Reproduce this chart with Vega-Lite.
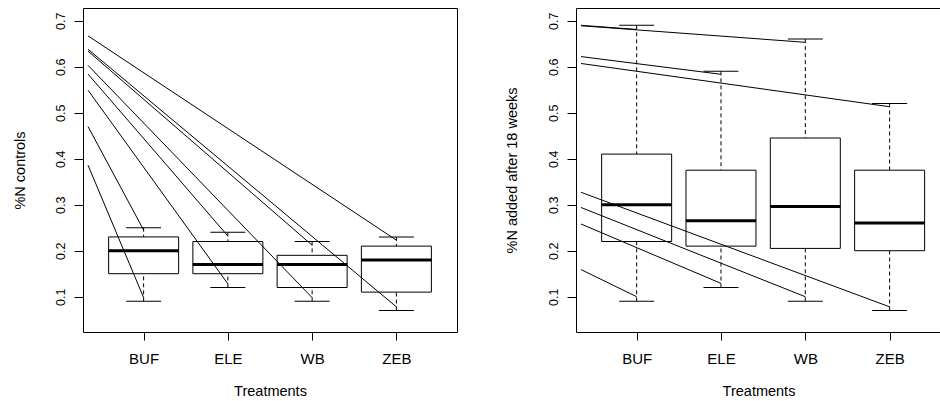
{
  "$schema": "https://vega.github.io/schema/vega-lite/v6.json",
  "background": "white",
  "padding": {"left": 12, "top": 8, "right": 0, "bottom": 0},
  "bounds": "flush",
  "spacing": 119,
  "config": {
    "view": {"stroke": null},
    "font": "Liberation Sans",
    "tick": {"opacity": 1},
    "bar": {"opacity": 1},
    "axis": {"grid": false, "domainColor": "black", "tickColor": "black", "labelColor": "black", "titleColor": "black", "titleFontWeight": "normal", "labelFlush": false, "labelOverlap": false, "domainWidth": 1, "tickWidth": 1}
  },
  "datasets": {
    "boxL": [
      {"trt": "BUF", "idx": 1, "lo": 0.09, "q1": 0.15, "med": 0.20, "q3": 0.23, "hi": 0.25},
      {"trt": "ELE", "idx": 2, "lo": 0.12, "q1": 0.15, "med": 0.17, "q3": 0.22, "hi": 0.24},
      {"trt": "WB", "idx": 3, "lo": 0.09, "q1": 0.12, "med": 0.17, "q3": 0.19, "hi": 0.22},
      {"trt": "ZEB", "idx": 4, "lo": 0.07, "q1": 0.11, "med": 0.18, "q3": 0.21, "hi": 0.23}
    ],
    "boxR": [
      {"trt": "BUF", "idx": 1, "lo": 0.09, "q1": 0.22, "med": 0.30, "q3": 0.41, "hi": 0.69},
      {"trt": "ELE", "idx": 2, "lo": 0.12, "q1": 0.21, "med": 0.265, "q3": 0.375, "hi": 0.59},
      {"trt": "WB", "idx": 3, "lo": 0.09, "q1": 0.205, "med": 0.296, "q3": 0.445, "hi": 0.66},
      {"trt": "ZEB", "idx": 4, "lo": 0.07, "q1": 0.20, "med": 0.26, "q3": 0.375, "hi": 0.52}
    ],
    "linesL": [
      {"x0": 0.34, "y0": 0.667, "x1": 4, "y1": 0.223},
      {"x0": 0.34, "y0": 0.638, "x1": 4, "y1": 0.078},
      {"x0": 0.34, "y0": 0.634, "x1": 3, "y1": 0.212},
      {"x0": 0.34, "y0": 0.603, "x1": 3, "y1": 0.098},
      {"x0": 0.34, "y0": 0.584, "x1": 2, "y1": 0.232},
      {"x0": 0.34, "y0": 0.549, "x1": 2, "y1": 0.128},
      {"x0": 0.34, "y0": 0.470, "x1": 1, "y1": 0.245},
      {"x0": 0.34, "y0": 0.386, "x1": 1, "y1": 0.098}
    ],
    "linesR": [
      {"x0": 0.34, "y0": 0.690, "x1": 1, "y1": 0.681},
      {"x0": 0.34, "y0": 0.689, "x1": 3, "y1": 0.653},
      {"x0": 0.34, "y0": 0.622, "x1": 2, "y1": 0.5835},
      {"x0": 0.34, "y0": 0.607, "x1": 4, "y1": 0.513},
      {"x0": 0.34, "y0": 0.327, "x1": 4, "y1": 0.078},
      {"x0": 0.34, "y0": 0.294, "x1": 3, "y1": 0.100},
      {"x0": 0.34, "y0": 0.258, "x1": 2, "y1": 0.129},
      {"x0": 0.34, "y0": 0.159, "x1": 1, "y1": 0.100}
    ]
  },
  "hconcat": [
    {
      "width": 374,
      "height": 324,
      "resolve": {"axis": {"x": "independent", "y": "independent"}},
      "layer": [
        {
          "data": {"name": "boxL"},
          "mark": {"type": "rule", "color": "black", "strokeWidth": 1, "strokeDash": [4, 3]},
          "encoding": {
            "x": {"field": "idx", "type": "quantitative", "scale": {"domain": [0.34, 4.66], "nice": false, "zero": false},
              "axis": {"values": [1, 2, 3, 4], "labelExpr": "datum.value == 1 ? 'BUF' : datum.value == 2 ? 'ELE' : datum.value == 3 ? 'WB' : 'ZEB'", "tickSize": 8, "labelPadding": 11, "labelFontSize": 15, "labelBaseline": "top", "title": "Treatments", "titleFontSize": 14.5, "titlePadding": 22, "minExtent": 30, "maxExtent": 30}},
            "y": {"field": "lo", "type": "quantitative", "scale": {"domain": [0.0233, 0.7276], "nice": false, "zero": false},
              "axis": {"values": [0.1, 0.2, 0.3, 0.4, 0.5, 0.6, 0.7], "format": ".1f", "labelAngle": 270, "labelAlign": "center", "labelBaseline": "alphabetic", "labelPadding": 10, "tickSize": 9, "labelFontSize": 12.5, "title": "%N controls", "titleFontSize": 14.5, "titleAngle": 270, "titleBaseline": "alphabetic", "titlePadding": 19, "minExtent": 40, "maxExtent": 40}},
            "y2": {"field": "q1"}
          }
        },
        {
          "data": {"name": "boxL"},
          "mark": {"type": "rule", "color": "black", "strokeWidth": 1, "strokeDash": [4, 3]},
          "encoding": {
            "x": {"field": "idx", "type": "quantitative", "axis": null},
            "y": {"field": "hi", "type": "quantitative", "axis": null},
            "y2": {"field": "q3"}
          }
        },
        {
          "data": {"name": "boxL"},
          "mark": {"type": "tick", "orient": "horizontal", "color": "black", "opacity": 1, "size": 35, "thickness": 1},
          "encoding": {
            "x": {"field": "idx", "type": "quantitative", "axis": null},
            "y": {"field": "lo", "type": "quantitative", "axis": null}
          }
        },
        {
          "data": {"name": "boxL"},
          "mark": {"type": "tick", "orient": "horizontal", "color": "black", "opacity": 1, "size": 35, "thickness": 1},
          "encoding": {
            "x": {"field": "idx", "type": "quantitative", "axis": null},
            "y": {"field": "hi", "type": "quantitative", "axis": null}
          }
        },
        {
          "data": {"name": "boxL"},
          "mark": {"type": "bar", "size": 70, "fill": "white", "stroke": "black", "strokeWidth": 1, "opacity": 1},
          "encoding": {
            "x": {"field": "idx", "type": "quantitative", "axis": null},
            "y": {"field": "q1", "type": "quantitative", "axis": null},
            "y2": {"field": "q3"}
          }
        },
        {
          "data": {"name": "boxL"},
          "mark": {"type": "tick", "orient": "horizontal", "color": "black", "opacity": 1, "size": 70, "thickness": 3},
          "encoding": {
            "x": {"field": "idx", "type": "quantitative", "axis": {"orient": "top", "labels": false, "ticks": false, "title": null, "domain": true}},
            "y": {"field": "med", "type": "quantitative", "axis": {"orient": "right", "labels": false, "ticks": false, "title": null, "domain": true}}
          }
        },
        {
          "data": {"name": "linesL"},
          "mark": {"type": "rule", "color": "black", "strokeWidth": 1, "clip": true},
          "encoding": {
            "x": {"field": "x0", "type": "quantitative", "axis": null},
            "y": {"field": "y0", "type": "quantitative", "axis": null},
            "x2": {"field": "x1"},
            "y2": {"field": "y1"}
          }
        }
      ]
    },
    {
      "width": 365,
      "height": 324,
      "resolve": {"axis": {"x": "independent", "y": "independent"}},
      "layer": [
        {
          "data": {"name": "boxR"},
          "mark": {"type": "rule", "color": "black", "strokeWidth": 1, "strokeDash": [4, 3]},
          "encoding": {
            "x": {"field": "idx", "type": "quantitative", "scale": {"domain": [0.34, 4.55], "nice": false, "zero": false},
              "axis": {"values": [1, 2, 3, 4], "labelExpr": "datum.value == 1 ? 'BUF' : datum.value == 2 ? 'ELE' : datum.value == 3 ? 'WB' : 'ZEB'", "tickSize": 8, "labelPadding": 11, "labelFontSize": 15, "labelBaseline": "top", "title": "Treatments", "titleFontSize": 14.5, "titlePadding": 22, "minExtent": 30, "maxExtent": 30}},
            "y": {"field": "lo", "type": "quantitative", "scale": {"domain": [0.0233, 0.7276], "nice": false, "zero": false},
              "axis": {"values": [0.1, 0.2, 0.3, 0.4, 0.5, 0.6, 0.7], "format": ".1f", "labelAngle": 270, "labelAlign": "center", "labelBaseline": "alphabetic", "labelPadding": 10, "tickSize": 9, "labelFontSize": 12.5, "title": "%N added after 18 weeks", "titleFontSize": 14.5, "titleAngle": 270, "titleBaseline": "alphabetic", "titlePadding": 20, "minExtent": 40, "maxExtent": 40}},
            "y2": {"field": "q1"}
          }
        },
        {
          "data": {"name": "boxR"},
          "mark": {"type": "rule", "color": "black", "strokeWidth": 1, "strokeDash": [4, 3]},
          "encoding": {
            "x": {"field": "idx", "type": "quantitative", "axis": null},
            "y": {"field": "hi", "type": "quantitative", "axis": null},
            "y2": {"field": "q3"}
          }
        },
        {
          "data": {"name": "boxR"},
          "mark": {"type": "tick", "orient": "horizontal", "color": "black", "opacity": 1, "size": 35, "thickness": 1},
          "encoding": {
            "x": {"field": "idx", "type": "quantitative", "axis": null},
            "y": {"field": "lo", "type": "quantitative", "axis": null}
          }
        },
        {
          "data": {"name": "boxR"},
          "mark": {"type": "tick", "orient": "horizontal", "color": "black", "opacity": 1, "size": 35, "thickness": 1},
          "encoding": {
            "x": {"field": "idx", "type": "quantitative", "axis": null},
            "y": {"field": "hi", "type": "quantitative", "axis": null}
          }
        },
        {
          "data": {"name": "boxR"},
          "mark": {"type": "bar", "size": 70, "fill": "white", "stroke": "black", "strokeWidth": 1, "opacity": 1},
          "encoding": {
            "x": {"field": "idx", "type": "quantitative", "axis": null},
            "y": {"field": "q1", "type": "quantitative", "axis": null},
            "y2": {"field": "q3"}
          }
        },
        {
          "data": {"name": "boxR"},
          "mark": {"type": "tick", "orient": "horizontal", "color": "black", "opacity": 1, "size": 70, "thickness": 3},
          "encoding": {
            "x": {"field": "idx", "type": "quantitative", "axis": {"orient": "top", "labels": false, "ticks": false, "title": null, "domain": true}},
            "y": {"field": "med", "type": "quantitative", "axis": null}
          }
        },
        {
          "data": {"name": "linesR"},
          "mark": {"type": "rule", "color": "black", "strokeWidth": 1, "clip": true},
          "encoding": {
            "x": {"field": "x0", "type": "quantitative", "axis": null},
            "y": {"field": "y0", "type": "quantitative", "axis": null},
            "x2": {"field": "x1"},
            "y2": {"field": "y1"}
          }
        }
      ]
    }
  ]
}
